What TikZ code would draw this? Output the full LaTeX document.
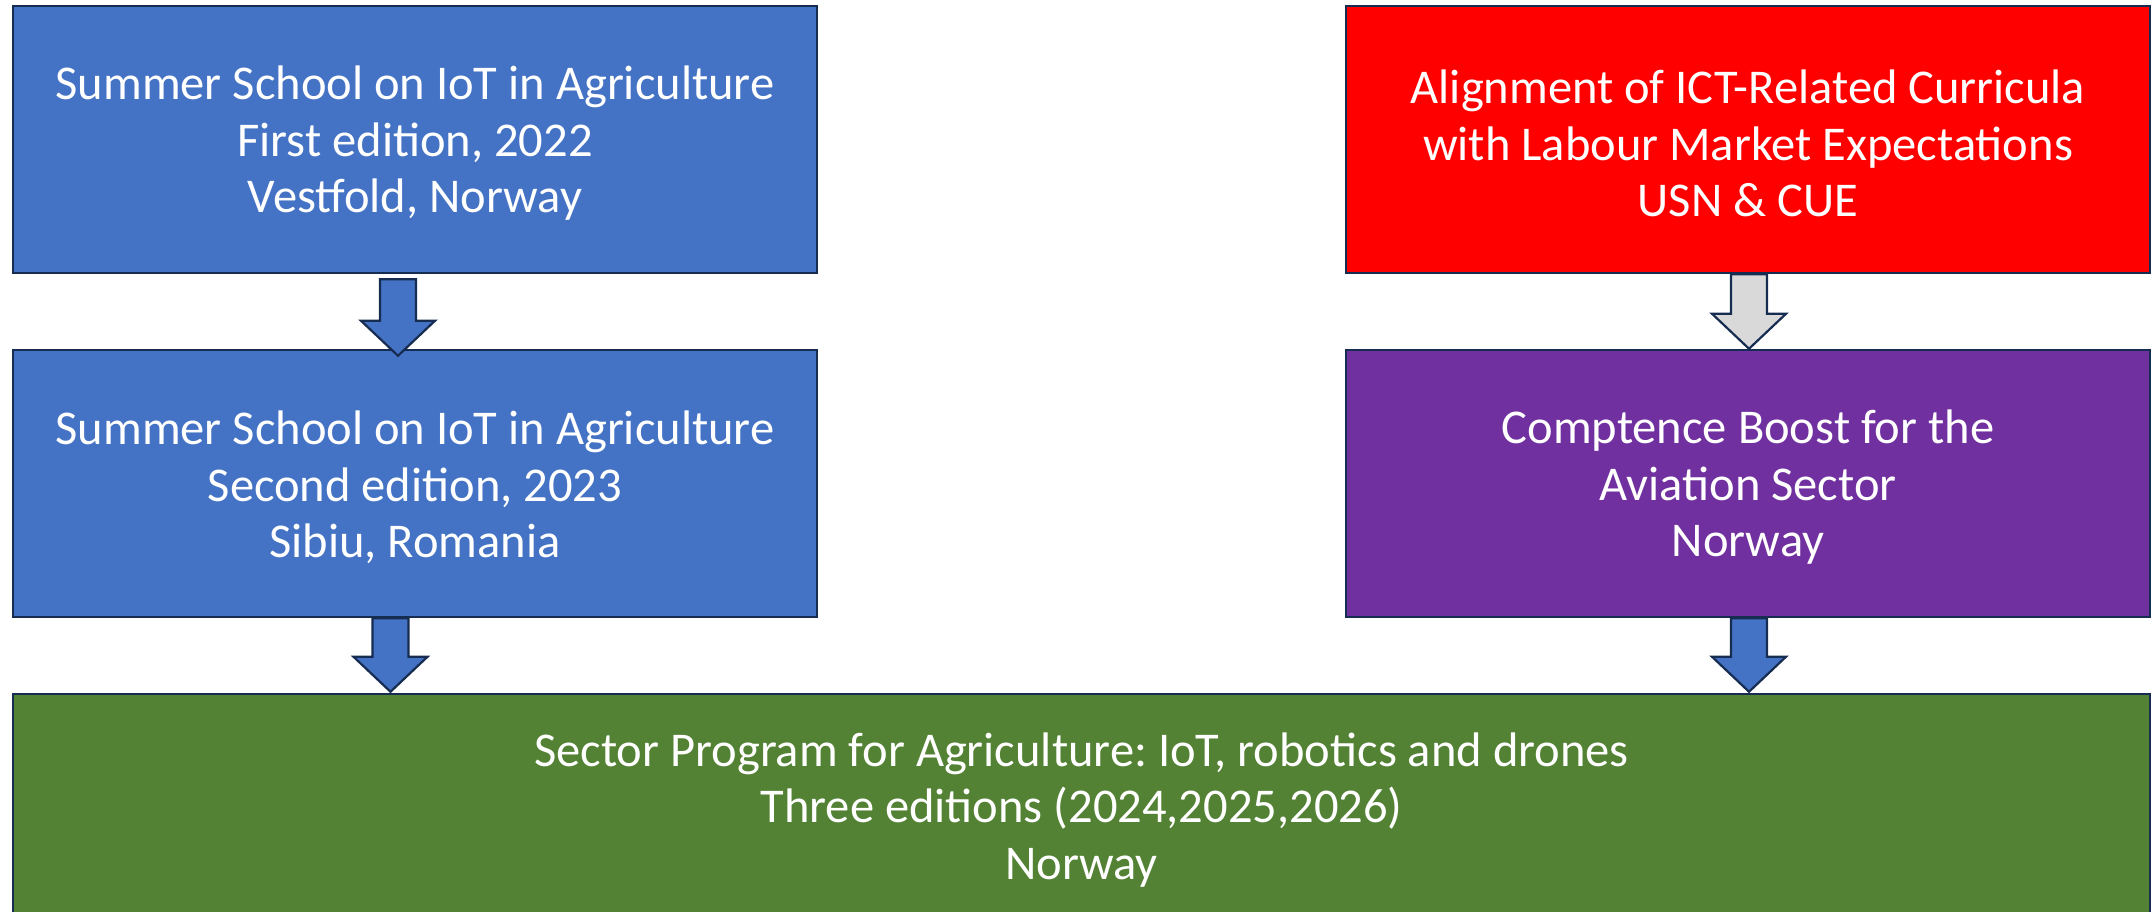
\documentclass[tikz,border=0pt]{standalone}
\usepackage{fontspec}
\setmainfont{Carlito}
\frenchspacing
\usetikzlibrary{calc}
\definecolor{boxblue}{HTML}{4472C4}
\definecolor{boxred}{HTML}{FF0000}
\definecolor{boxpurple}{HTML}{7030A0}
\definecolor{boxgreen}{HTML}{548235}
\definecolor{edgenavy}{HTML}{172C51}
\definecolor{arrgrey}{HTML}{D9D9D9}
\tikzset{
  box/.style={draw=edgenavy, line width=2.5pt, inner sep=0pt,
    minimum width=804pt, minimum height=267pt},
  boxtext/.style={inner sep=0pt, text=white, align=center,
    font=\fontsize{48.5}{56.5}\selectfont\frenchspacing},
  blockarrow/.style={draw=edgenavy, line width=2.2pt, line join=miter}
}
\newcommand{\blockarr}[3]{% #1 start coord, #2 tip coord, #3 fill colour
  \filldraw[blockarrow, fill=#3] let \p1=(#1), \p2=(#2) in
    ({\x1-18pt},{\y1}) -- ({\x1+18pt},{\y1}) -- ({\x1+18pt},{\y2+35pt})
    -- ({\x1+37pt},{\y2+35pt}) -- ({\x2},{\y2}) -- ({\x1-37pt},{\y2+35pt})
    -- ({\x1-18pt},{\y2+35pt}) -- cycle;}
\begin{document}
\begin{tikzpicture}[x=1pt,y=-1pt]
\useasboundingbox (0,0) rectangle (2155,911);
\node[box, fill=boxblue] (b1) at (415,139.5) {};
\node[box, fill=boxblue] (b2) at (415,483.5) {};
\node[box, fill=boxred] (r1) at (1748,139.5) {};
\node[box, fill=boxpurple] (p1) at (1748,483.5) {};
\node[box, fill=boxgreen, minimum width=2137pt, minimum height=224pt] (g1) at (1081.5,806) {};
\node[boxtext] (b1t) at ($(b1.center)+(0,4)$)
  {Summer School on IoT in Agriculture\\First edition, 2022\\Vestfold, Norway};
\node[boxtext] (b2t) at ($(b2.center)+(0,4)$)
  {Summer School on IoT in Agriculture\\Second edition, 2023\\Sibiu, Romania};
\node[boxtext] (r1t) at ($(r1.center)+(0,4)$)
  {Alignment of ICT-Related Curricula\\with Labour Market Expectations\\USN \& CUE};
\node[boxtext] (p1t) at ($(p1.center)+(0,4)$)
  {Comptence Boost for the\\Aviation Sector\\Norway};
\node[boxtext] (g1t) at ($(g1.center)+(0,4)$)
  {Sector Program for Agriculture: IoT, robotics and drones\\Three editions (2024,2025,2026)\\Norway};
% arrow end points, taken from the boxes they join
\coordinate (a1s) at ($(b1.south)+(-17,5)$);
\coordinate (a1e) at ($(b2.north)+(-17,7)$);
\coordinate (a2s) at ($(r1.south)+(1,0)$);
\coordinate (a2e) at ($(p1.north)+(1,0)$);
\coordinate (a3s) at ($(b2.south)+(-24.5,0)$);
\coordinate (a3e) at ($(g1.north)+(-691,-1)$);
\coordinate (a4s) at ($(p1.south)+(1,0)$);
\coordinate (a4e) at ($(g1.north)+(667.5,-1)$);
\blockarr{a1s}{a1e}{boxblue}
\blockarr{a2s}{a2e}{arrgrey}
\blockarr{a3s}{a3e}{boxblue}
\blockarr{a4s}{a4e}{boxblue}
\end{tikzpicture}
\end{document}
